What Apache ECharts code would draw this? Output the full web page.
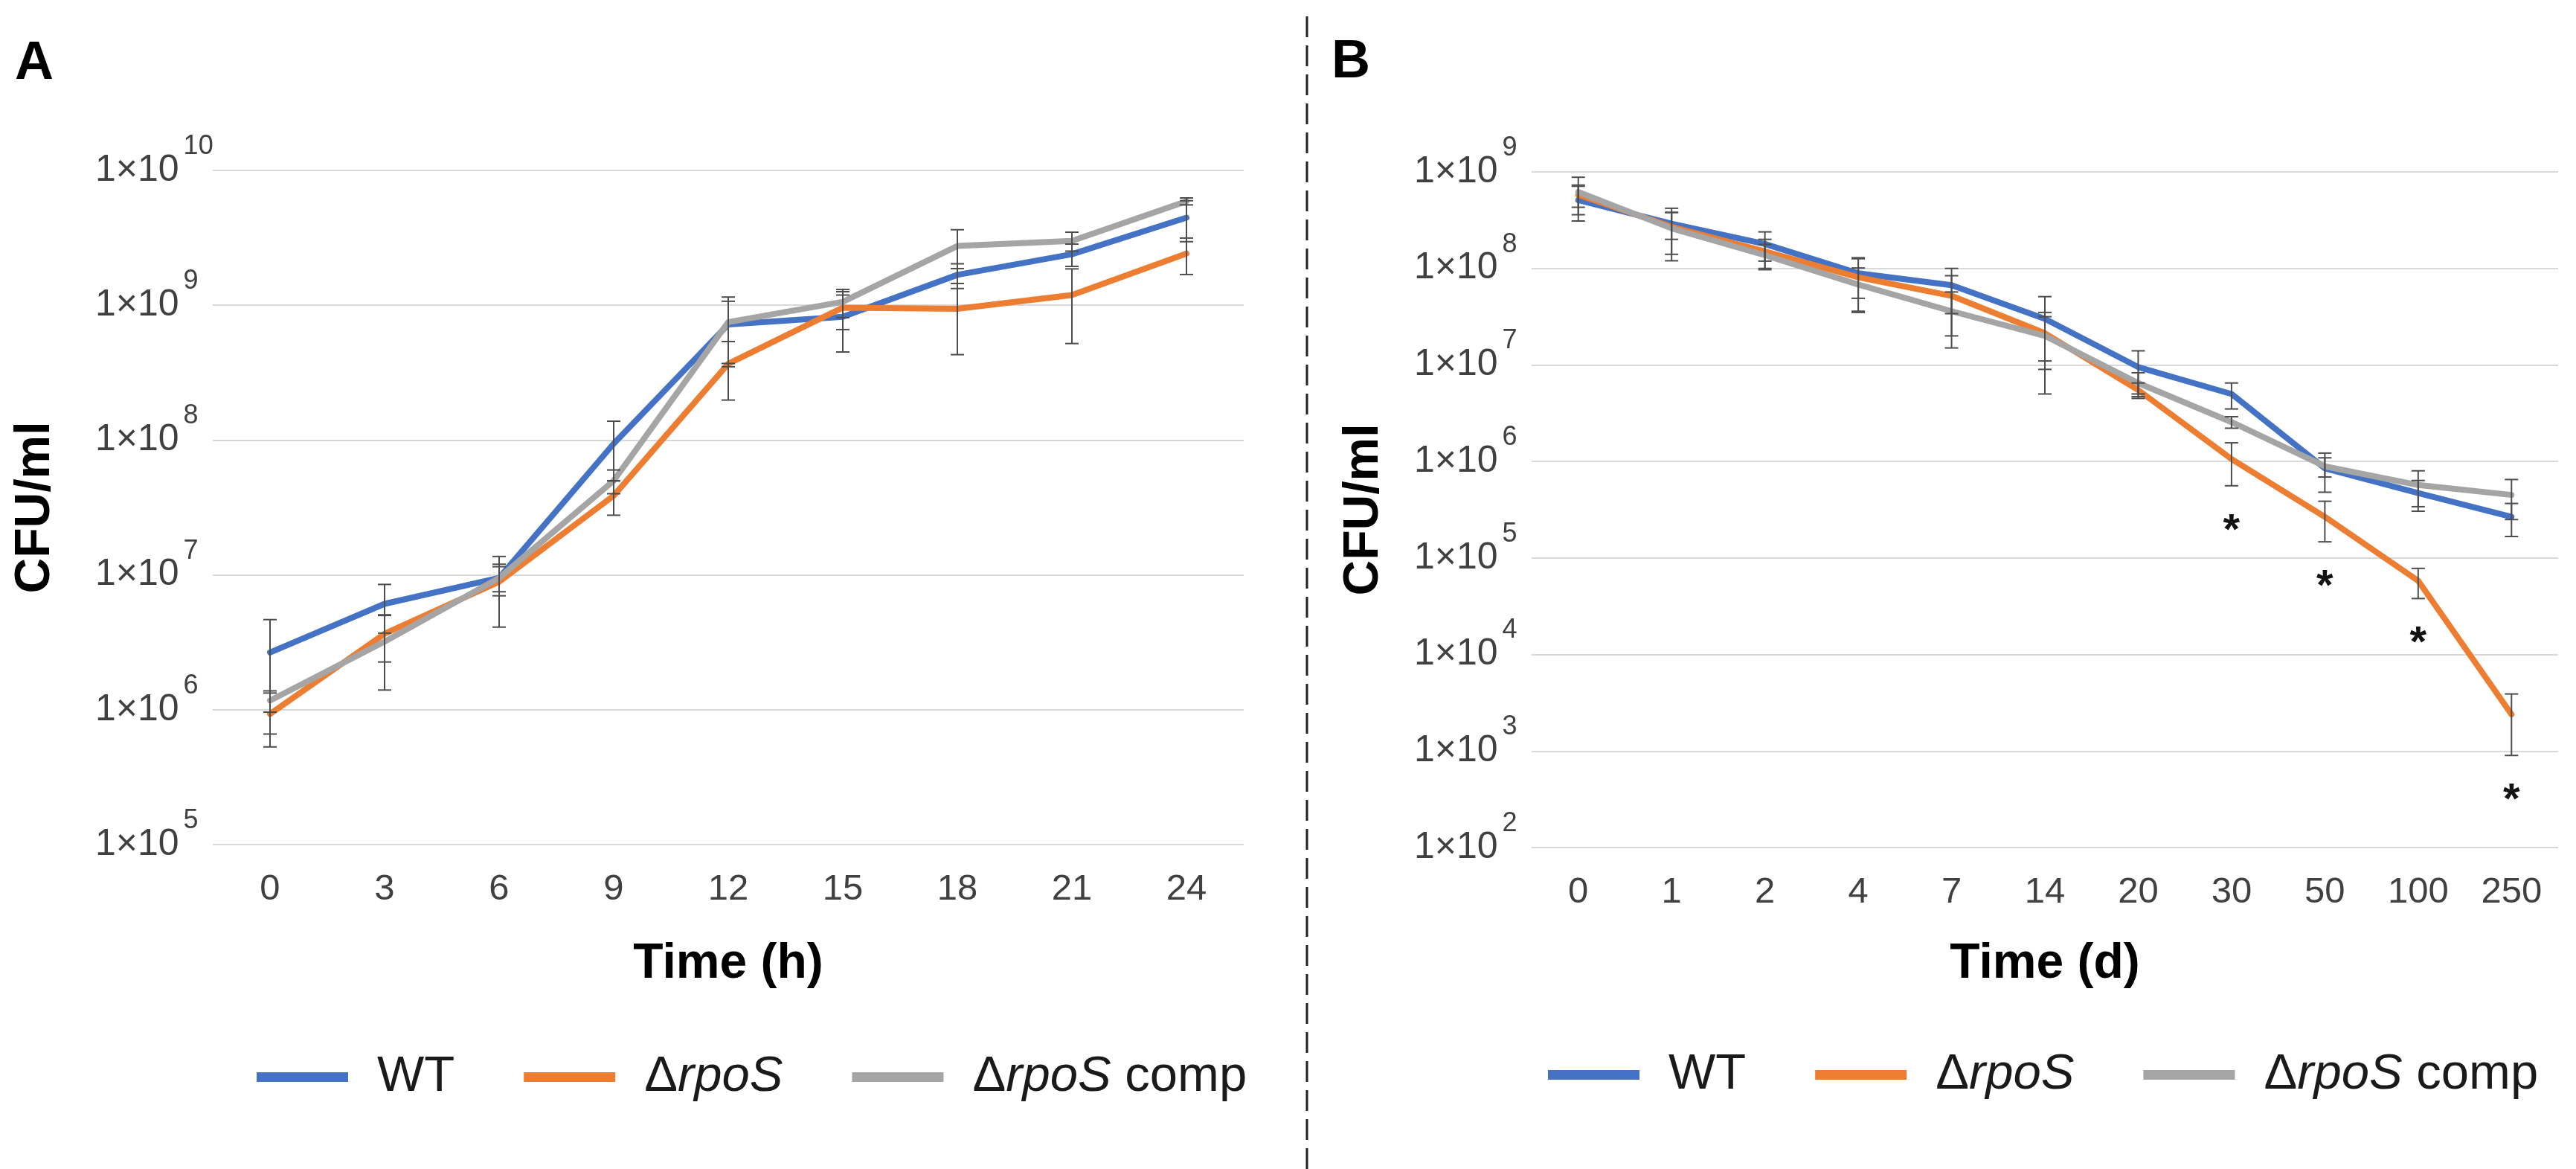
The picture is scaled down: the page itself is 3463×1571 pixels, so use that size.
<!DOCTYPE html>
<html>
<head>
<meta charset="utf-8">
<title>CFU/ml over time</title>
<script src="https://cdn.jsdelivr.net/npm/echarts@6/dist/echarts.min.js"></script>
<style>
  html, body { margin: 0; padding: 0; background: #fff; }
  #chart { width: 3463px; height: 1571px; }
</style>
</head>
<body>
<div id="chart"></div>
<script>
// Panel A: growth, time in hours
const hoursA = ['0', '3', '6', '9', '12', '15', '18', '21', '24'];
const wtA = [2.66e6, 6.1e6, 9.5e6, 9.4e7, 7.2e8, 8.2e8, 1.68e9, 2.39e9, 4.46e9];
const wtSdA = [2.0e6, 2.4e6, 2.0e6, 4.4e7, 3.5e8, 3.7e8, 3.5e8, 4.5e8, 1.5e9];
const rpoA = [9.3e5, 3.66e6, 8.9e6, 3.87e7, 3.68e8, 9.6e8, 9.4e8, 1.19e9, 2.42e9];
const rpoSdA = [4.0e5, 1.4e6, 4.8e6, 1.1e7, 1.7e8, 3.0e8, 5.1e8, 6.7e8, 7.3e8];
const compA = [1.17e6, 3.2e6, 9.5e6, 5.0e7, 7.5e8, 1.06e9, 2.75e9, 3.0e9, 5.9e9];
const compSdA = [2.1e5, 1.8e6, 2.5e6, 1.0e7, 4.0e8, 2.5e8, 8.8e8, 4.8e8, 3.5e8];

// Panel B: survival, time in days
const daysB = ['0', '1', '2', '4', '7', '14', '20', '30', '50', '100', '250'];
const wtB = [5.1e8, 2.9e8, 1.79e8, 8.9e7, 6.7e7, 3.0e7, 9.5e6, 5.0e6, 8.5e5, 4.7e5, 2.67e5];
const wtSdB = [2.0e8, 9e7, 6e7, 4e7, 3.3e7, 2.1e7, 4.5e6, 1.5e6, 3.7e5, 1.65e5, 1.0e5];
const rpoB = [5.8e8, 2.7e8, 1.5e8, 8.1e7, 5.2e7, 2.13e7, 5.5e6, 1.06e6, 2.67e5, 5.8e4, 2.4e3];
const rpoSdB = [1.5e8, 1.5e8, 5e7, 4.5e7, 3.2e7, 1.03e7, 1.0e6, 5.0e5, 1.2e5, 2.0e4, 1.5e3];
const compB = [6.2e8, 2.6e8, 1.37e8, 6.8e7, 3.6e7, 2.0e7, 6.5e6, 2.56e6, 8.9e5, 5.7e5, 4.5e5];
const compSdB = [2.6e8, 1.2e8, 4e7, 3.3e7, 2.1e7, 1.5e7, 1.8e6, 3.5e5, 2.0e5, 2.3e5, 2.0e5];
// significance marks under ΔrpoS
const sigB = ['', '', '', '', '', '', '', '*', '*', '*', '*'];

const seriesNames = ['WT', 'ΔrpoS', 'ΔrpoS comp'];
const colors = ['#4472C4', '#ED7D31', '#A5A5A5'];
const FONT = '"Liberation Sans", Arial, sans-serif';

function lineSeries(name, color, data, gi) {
  return {
    name: name,
    type: 'line',
    xAxisIndex: gi,
    yAxisIndex: gi,
    data: data,
    symbol: 'none',
    showSymbol: false,
    itemStyle: { color: color },
    lineStyle: { color: color, width: 8, cap: 'round', join: 'round' },
    z: 2
  };
}

// error bars (± SD, linear) drawn as a custom series
function errSeries(vals, sds, gi) {
  return {
    name: 'err',
    type: 'custom',
    xAxisIndex: gi,
    yAxisIndex: gi,
    data: vals.map((v, i) => [i, v - sds[i], v + sds[i]]),
    encode: { x: 0, y: [1, 2] },
    z: 4,
    renderItem: function (params, api) {
      const lo = api.coord([api.value(0), api.value(1)]);
      const hi = api.coord([api.value(0), api.value(2)]);
      const w = 9;
      const st = { stroke: '#4d4d4d', lineWidth: 2 };
      return {
        type: 'group',
        children: [
          { type: 'line', shape: { x1: lo[0], y1: lo[1], x2: hi[0], y2: hi[1] }, style: st },
          { type: 'line', shape: { x1: hi[0] - w, y1: hi[1], x2: hi[0] + w, y2: hi[1] }, style: st },
          { type: 'line', shape: { x1: lo[0] - w, y1: lo[1], x2: lo[0] + w, y2: lo[1] }, style: st }
        ]
      };
    }
  };
}

function sigSeries(vals, sds, marks, gi) {
  const data = [];
  marks.forEach((m, i) => { if (m) data.push([i, vals[i] - sds[i], m]); });
  return {
    name: 'sig',
    type: 'custom',
    xAxisIndex: gi,
    yAxisIndex: gi,
    data: data,
    encode: { x: 0, y: 1 },
    z: 5,
    renderItem: function (params, api) {
      const p = api.coord([api.value(0), api.value(1)]);
      return {
        type: 'text',
        x: p[0],
        y: p[1] + 62,
        style: {
          text: data[params.dataIndex][2],
          font: 'bold 58px ' + FONT,
          fill: '#111',
          align: 'center',
          verticalAlign: 'middle'
        }
      };
    }
  };
}

function yLabel(value) {
  const e = Math.round(Math.log10(value));
  return '{a|1×10}{b|' + e + '}';
}

function xAxisOf(gi, cats, name, gap) {
  return {
    type: 'category',
    gridIndex: gi,
    data: cats,
    boundaryGap: true,
    axisLine: { show: false },
    axisTick: { show: false },
    axisLabel: { fontSize: 49, fontFamily: FONT, color: '#404040', margin: 36 },
    name: name,
    nameLocation: 'middle',
    nameGap: gap,
    nameTextStyle: { fontSize: 66, fontWeight: 'bold', fontFamily: FONT, color: '#000' }
  };
}

function yAxisOf(gi, min, max, gap) {
  return {
    type: 'log',
    logBase: 10,
    gridIndex: gi,
    min: min,
    max: max,
    axisLine: { show: false },
    axisTick: { show: false },
    splitLine: { show: true, lineStyle: { color: '#d9d9d9', width: 2 } },
    axisLabel: {
      align: 'left',
      margin: 158,
      formatter: yLabel,
      rich: {
        a: { fontSize: 50, lineHeight: 50, fontFamily: FONT, color: '#404040' },
        b: { fontSize: 36, lineHeight: 36, fontFamily: FONT, color: '#404040', padding: [0, 0, 64, 6] }
      }
    },
    name: 'CFU/ml',
    nameLocation: 'middle',
    nameGap: gap,
    nameTextStyle: { fontSize: 66, fontWeight: 'bold', fontFamily: FONT, color: '#000' }
  };
}

function legendOf(left, top) {
  return {
    left: left,
    top: top,
    orient: 'horizontal',
    icon: 'rect',
    itemWidth: 123,
    itemHeight: 13,
    itemGap: 93,
    selectedMode: false,
    data: seriesNames,
    formatter: function (name) {
      if (name === 'WT') return '{n|WT}';
      if (name === 'ΔrpoS') return '{n|Δ}{i|rpoS}';
      return '{n|Δ}{i|rpoS}{n| comp}';
    },
    textStyle: {
      padding: [0, 0, 0, 34],
      rich: {
        n: { fontSize: 67, fontFamily: FONT, color: '#1a1a1a' },
        i: { fontSize: 67, fontFamily: FONT, fontStyle: 'italic', color: '#1a1a1a' }
      }
    }
  };
}

const chart = echarts.init(document.getElementById('chart'), null, { renderer: 'canvas' });

const option = {
  backgroundColor: '#fff',
  animation: false,
  grid: [
    { left: 286, top: 229, width: 1386, height: 906 },
    { left: 2059, top: 231, width: 1380, height: 908 }
  ],
  xAxis: [
    xAxisOf(0, hoursA, 'Time (h)', 128),
    xAxisOf(1, daysB, 'Time (d)', 124)
  ],
  yAxis: [
    yAxisOf(0, 1e5, 1e10, 205),
    yAxisOf(1, 1e2, 1e9, 192)
  ],
  legend: [legendOf(340, 1409), legendOf(2076, 1406)],
  graphic: [
    {
      type: 'line',
      shape: { x1: 1757, y1: 22, x2: 1757, y2: 1571 },
      style: { stroke: '#222', lineWidth: 3, lineDash: [28, 11] }
    },
    {
      type: 'text', left: 20, top: 50,
      style: { text: 'A', font: 'bold 72px ' + FONT, fill: '#000' }
    },
    {
      type: 'text', left: 1790, top: 48,
      style: { text: 'B', font: 'bold 72px ' + FONT, fill: '#000' }
    }
  ],
  series: [
    lineSeries(seriesNames[0], colors[0], wtA, 0),
    lineSeries(seriesNames[1], colors[1], rpoA, 0),
    lineSeries(seriesNames[2], colors[2], compA, 0),
    errSeries(wtA, wtSdA, 0),
    errSeries(rpoA, rpoSdA, 0),
    errSeries(compA, compSdA, 0),
    lineSeries(seriesNames[0], colors[0], wtB, 1),
    lineSeries(seriesNames[1], colors[1], rpoB, 1),
    lineSeries(seriesNames[2], colors[2], compB, 1),
    errSeries(wtB, wtSdB, 1),
    errSeries(rpoB, rpoSdB, 1),
    errSeries(compB, compSdB, 1),
    sigSeries(rpoB, rpoSdB, sigB, 1)
  ]
};

chart.setOption(option);
</script>
</body>
</html>
